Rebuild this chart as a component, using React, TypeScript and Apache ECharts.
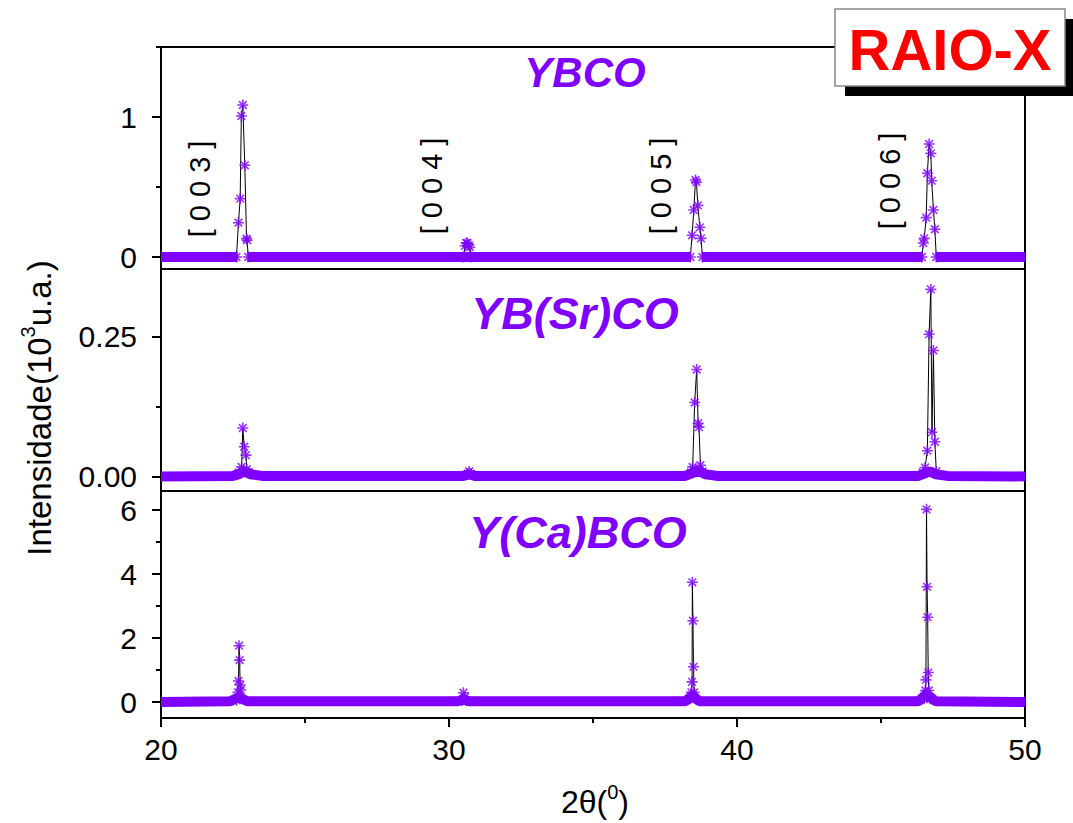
import React, { useEffect, useRef } from 'react';
import * as echarts from 'echarts';

// ---------- data ----------
const X_MAJOR = [20, 30, 40, 50];
const X_MINOR = [25, 35, 45];

const TOP_MAJOR = [0, 1];
const TOP_MINOR = [0.5, 1.5];
const MID_MAJOR = [0, 0.25];
const MID_MINOR = [0.125];
const BOT_MAJOR = [0, 2, 4, 6];
const BOT_MINOR = [1, 3, 5];

const panelTitles = ['YBCO', 'YB(Sr)CO', 'Y(Ca)BCO'];
const peakLabels = ['[ 0 0 3 ]', '[ 0 0 4 ]', '[ 0 0 5 ]', '[ 0 0 6 ]'];

// YBCO (10^3 u.a.)
const ybcoPeaks: [number, number][] = [
  [22.62, 0], [22.69, 0.245], [22.75, 0.417], [22.79, 1.007], [22.84, 1.086], [22.91, 0.655], [22.97, 0.131], [22.99, 0.12], [23.03, 0],
  [30.5, 0], [30.56, 0.08], [30.6, 0.1], [30.64, 0.1], [30.68, 0.085], [30.72, 0.07], [30.78, 0],
  [38.38, 0], [38.44, 0.155], [38.5, 0.336], [38.56, 0.55], [38.59, 0.535], [38.64, 0.369], [38.71, 0.212], [38.75, 0.133], [38.8, 0],
  [46.42, 0], [46.47, 0.1], [46.5, 0.133], [46.57, 0.281], [46.61, 0.598], [46.67, 0.807], [46.73, 0.74], [46.76, 0.545], [46.82, 0.336], [46.87, 0.198], [46.92, 0],
];
const ybcoBand: [number, number | string][] = [
  [20, 0], [22.66, 0], [22.8, '-'], [23.0, 0], [38.4, 0], [38.6, '-'], [38.78, 0], [46.45, 0], [46.7, '-'], [46.9, 0], [50, 0],
];

// YB(Sr)CO
const ybsrcoPeaks: [number, number][] = [
  [22.7, 0.008], [22.8, 0.018], [22.84, 0.0875], [22.89, 0.054], [22.95, 0.039], [22.98, 0.014], [23.05, 0.008],
  [30.65, 0.006], [30.7, 0.01], [30.75, 0.006],
  [38.4, 0.008], [38.46, 0.018], [38.53, 0.133], [38.6, 0.192], [38.65, 0.096], [38.68, 0.089], [38.73, 0.021], [38.8, 0.01],
  [46.45, 0.008], [46.53, 0.017], [46.61, 0.047], [46.67, 0.255], [46.73, 0.335], [46.77, 0.08], [46.82, 0.226], [46.87, 0.063], [46.92, 0.01],
];
const ybsrcoBand: [number, number][] = [
  [20, 0.001], [22.5, 0.002], [22.75, 0.006], [22.9, 0.01], [23.1, 0.005], [23.5, 0.002],
  [30.5, 0.002], [30.7, 0.005], [30.9, 0.002],
  [38.2, 0.002], [38.5, 0.008], [38.65, 0.011], [38.9, 0.005], [39.3, 0.002],
  [46.3, 0.002], [46.55, 0.007], [46.7, 0.01], [46.9, 0.005], [47.3, 0.002], [50, 0.001],
];

// Y(Ca)BCO
const ycabcoPeaks: [number, number][] = [
  [22.62, 0.05], [22.67, 0.3], [22.69, 0.656], [22.71, 1.76], [22.73, 1.31], [22.75, 0.53], [22.77, 0.375], [22.8, 0.1],
  [30.45, 0.05], [30.5, 0.29], [30.55, 0.15], [30.6, 0.05],
  [38.38, 0.1], [38.42, 0.3], [38.44, 0.63], [38.45, 3.74], [38.47, 2.54], [38.49, 1.1], [38.51, 0.3], [38.55, 0.1],
  [46.5, 0.1], [46.54, 0.36], [46.56, 0.69], [46.58, 6.02], [46.6, 3.6], [46.62, 2.65], [46.64, 0.92], [46.66, 0.36], [46.7, 0.1],
];
const ycabcoBand: [number, number][] = [
  [20, 0], [22.4, 0.02], [22.7, 0.15], [23.0, 0.02], [30.3, 0.02], [30.5, 0.08], [30.7, 0.02],
  [38.2, 0.02], [38.45, 0.2], [38.7, 0.02], [46.3, 0.02], [46.58, 0.25], [46.9, 0.02], [50, 0],
];

// ---------- styling ----------
const VIOLET = '#8000ff';
const FONT = '"Liberation Sans", Arial, sans-serif';
const STAR = 'path://M0 5L10 5M5 0L5 10M1.5 1.5L8.5 8.5M8.5 1.5L1.5 8.5';

const grids = [
  { top: 47, height: 222, min: -0.0857, max: 1.5, major: TOP_MAJOR, minor: TOP_MINOR, dec: 0 },
  { top: 269, height: 222, min: -0.025, max: 0.3714, major: MID_MAJOR, minor: MID_MINOR, dec: 2 },
  { top: 491, height: 227, min: -0.5, max: 6.594, major: BOT_MAJOR, minor: BOT_MINOR, dec: 0 },
];
const peaks = [ybcoPeaks, ybsrcoPeaks, ycabcoPeaks];
const bands = [ybcoBand, ybsrcoBand, ycabcoBand];

export default function App() {
  const ref = useRef<HTMLDivElement>(null);
  useEffect(() => {
    if (!ref.current) return;
    const chart = echarts.init(ref.current, undefined, { renderer: 'svg' });

    const gridOpts = grids.map((g) => ({
      left: 161, right: 48, top: g.top, height: g.height,
      show: true, borderColor: '#000', borderWidth: 2, backgroundColor: 'transparent',
    }));

    const xAxis: any[] = [];
    const yAxis: any[] = [];
    grids.forEach((g, i) => {
      const isBottom = i === 2;
      xAxis.push({
        gridIndex: i, type: 'value', position: 'bottom', min: 20, max: 50, interval: 10,
        axisLine: { show: true, onZero: false, lineStyle: { color: '#000', width: 2 } },
        axisTick: { show: isBottom, length: 9, customValues: X_MAJOR, lineStyle: { color: '#000', width: 2 } },
        axisLabel: {
          show: isBottom, customValues: X_MAJOR, margin: 16, color: '#000', fontSize: 30, fontFamily: FONT,
        },
        splitLine: { show: false },
      });
      if (isBottom) {
        xAxis.push({
          gridIndex: i, type: 'value', position: 'bottom', min: 20, max: 50,
          axisLine: { show: false, onZero: false },
          axisTick: { show: true, length: 5, customValues: X_MINOR, lineStyle: { color: '#000', width: 2 } },
          axisLabel: { show: false },
          splitLine: { show: false },
        });
      }
      yAxis.push({
        gridIndex: i, type: 'value', position: 'left', min: g.min, max: g.max,
        axisLine: { show: true, onZero: false, lineStyle: { color: '#000', width: 2 } },
        axisTick: { show: true, length: 9, customValues: g.major, lineStyle: { color: '#000', width: 2 } },
        axisLabel: {
          customValues: g.major, margin: 24, color: '#000', fontSize: 30, fontFamily: FONT,
          formatter: (v: number) => v.toFixed(g.dec),
        },
        splitLine: { show: false },
      });
      yAxis.push({
        gridIndex: i, type: 'value', position: 'left', offset: 0, min: g.min, max: g.max,
        axisLine: { show: false, onZero: false },
        axisTick: { show: true, length: 5, customValues: g.minor, lineStyle: { color: '#000', width: 2 } },
        axisLabel: { show: false },
        splitLine: { show: false },
      });
    });

    const xIdx = [0, 1, 2];
    const yIdx = [0, 2, 4];
    const series: any[] = [];
    peaks.forEach((p, i) => {
      series.push({
        type: 'line', xAxisIndex: xIdx[i], yAxisIndex: yIdx[i], data: p,
        showSymbol: false, symbol: 'none', z: 2,
        lineStyle: { color: '#000', width: 1 },
      });
      series.push({
        type: 'line', xAxisIndex: xIdx[i], yAxisIndex: yIdx[i], data: bands[i],
        showSymbol: false, symbol: 'none', z: 3, connectNulls: false,
        lineStyle: { color: VIOLET, width: 10 },
      });
      series.push({
        type: 'scatter', xAxisIndex: xIdx[i], yAxisIndex: yIdx[i], data: p,
        symbol: STAR, symbolSize: 11, z: 4,
        itemStyle: { color: VIOLET, borderColor: VIOLET, borderWidth: 1.6 },
      });
    });

    const titlePos = [[585, 72], [575, 313], [578, 532]];
    const titleSize = [42, 45, 45];
    const labelPos = [[200, 189], [432, 186], [661, 186], [890, 181]];

    const graphic: any[] = [
      ...panelTitles.map((t, i) => ({
        type: 'text', x: titlePos[i][0], y: titlePos[i][1], z: 50,
        style: { text: t, fill: VIOLET, font: `italic bold ${titleSize[i]}px ${FONT}`, align: 'center', verticalAlign: 'middle' },
      })),
      ...peakLabels.map((t, i) => ({
        type: 'text', x: labelPos[i][0], y: labelPos[i][1], rotation: Math.PI / 2, z: 50,
        style: { text: t, fill: '#000', font: `29px ${FONT}`, align: 'center', verticalAlign: 'middle' },
      })),
      {
        type: 'text', x: 37, y: 408, rotation: Math.PI / 2, z: 50,
        style: {
          text: '{n|Intensidade(10}{s|3}{n|u.a.)}', align: 'center', verticalAlign: 'middle', fill: '#000',
          rich: {
            n: { fontSize: 33, fontFamily: FONT, lineHeight: 38, verticalAlign: 'bottom', fill: '#000' },
            s: { fontSize: 20, fontFamily: FONT, lineHeight: 22, verticalAlign: 'top', fill: '#000' },
          },
        },
      },
      {
        type: 'text', x: 595, y: 800, z: 50,
        style: {
          text: '{n|2θ(}{s|0}{n|)}', align: 'center', verticalAlign: 'middle', fill: '#000',
          rich: {
            n: { fontSize: 32, fontFamily: FONT, lineHeight: 36, verticalAlign: 'bottom', fill: '#000' },
            s: { fontSize: 20, fontFamily: FONT, lineHeight: 22, verticalAlign: 'top', fill: '#000' },
          },
        },
      },
      { type: 'rect', z: 100, shape: { x: 845, y: 19, width: 228, height: 77 }, style: { fill: '#000' } },
      { type: 'rect', z: 101, shape: { x: 835, y: 9, width: 230, height: 77 }, style: { fill: '#fff', stroke: '#888', lineWidth: 1.5 } },
      {
        type: 'text', z: 102, x: 950, y: 49,
        style: { text: 'RAIO-X', fill: '#ff0000', font: `bold 58px ${FONT}`, align: 'center', verticalAlign: 'middle' },
      },
    ];

    chart.setOption({
      animation: false,
      backgroundColor: '#fff',
      grid: gridOpts,
      xAxis,
      yAxis,
      series,
      graphic,
    });
    return () => chart.dispose();
  }, []);

  return <div ref={ref} style={{ position: 'fixed', left: 0, top: 0, width: 1073, height: 823 }} />;
}
